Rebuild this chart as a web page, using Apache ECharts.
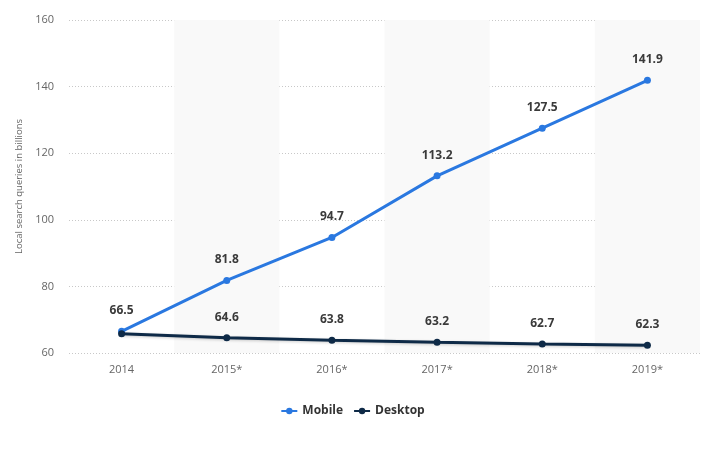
<!DOCTYPE html>
<html><head><meta charset="utf-8">
<script src="https://cdn.jsdelivr.net/npm/echarts@6/dist/echarts.min.js"></script>
<style>html,body{margin:0;padding:0;background:#fff}#c{width:705px;height:450px}</style>
</head><body><div id="c"></div>
<script>
const categories = ['2014','2015*','2016*','2017*','2018*','2019*'];
const mobile = [66.5, 81.8, 94.7, 113.2, 127.5, 141.9];
const desktop = [65.8, 64.6, 63.8, 63.2, 62.7, 62.3];
const yTicks = [60, 80, 100, 120, 140, 160];
const desktopLabelShow = [false, true, true, true, true, true];

const chart = echarts.init(document.getElementById('c'));
const lbl = {show:true, position:'top', distance:11, color:'#3a3a3a', fontWeight:'bold', fontSize:12, fontFamily:'Open Sans, sans-serif'};
chart.setOption({
  animation:false,
  grid:{left:69, right:5, top:20, bottom:97},
  legend:{bottom:28, left:'center', itemWidth:16, itemHeight:8, itemGap:10,
    textStyle:{color:'#333', fontWeight:'bold', fontSize:12, fontFamily:'Open Sans, sans-serif'},
    data:['Mobile','Desktop']},
  xAxis:{type:'category', data:categories, boundaryGap:true,
    axisLine:{show:false}, axisTick:{show:false},
    axisLabel:{color:'#666', fontSize:11, margin:11, fontFamily:'Open Sans, sans-serif'},
    splitArea:{show:true, areaStyle:{color:['rgba(255,255,255,0)','#f9f9f9']}}},
  yAxis:{type:'value', min:yTicks[0], max:yTicks[yTicks.length-1], interval:20,
    name:'Local search queries in billions', nameLocation:'middle', nameGap:43,
    nameTextStyle:{color:'#666', fontSize:9.5, fontFamily:'Open Sans, sans-serif'},
    axisLine:{show:false}, axisTick:{show:false},
    axisLabel:{color:'#666', fontSize:11, margin:15, fontFamily:'Open Sans, sans-serif'},
    splitLine:{lineStyle:{color:'#c8c8c8', type:[1,2]}}},
  series:[
    {name:'Mobile', type:'line', data:mobile, symbol:'circle', symbolSize:7,
      itemStyle:{color:'#2a78e0'}, lineStyle:{width:3, color:'#2a78e0'}, label:lbl, z:3},
    {name:'Desktop', type:'line', symbol:'circle', symbolSize:7,
      data:desktop.map((v,i)=>({value:v, label:{show:desktopLabelShow[i]}})),
      itemStyle:{color:'#0e2a47'}, lineStyle:{width:3, color:'#0e2a47', shadowColor:'rgba(0,0,0,0.2)', shadowBlur:3, shadowOffsetY:1}, label:lbl, z:4}
  ]
});
</script></body></html>
